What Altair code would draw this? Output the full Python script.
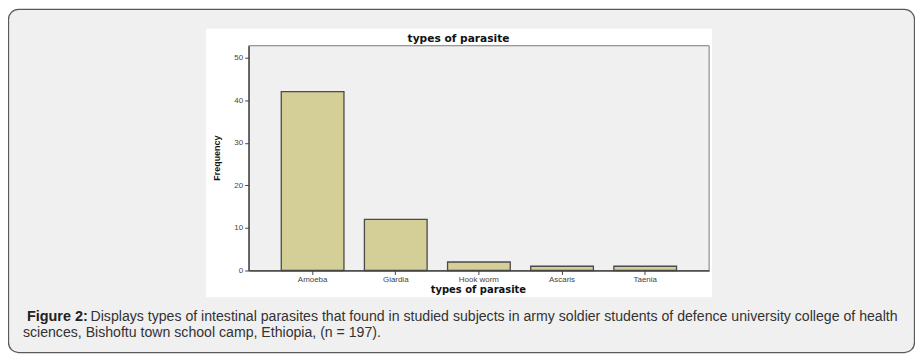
import altair as alt
import pandas as pd

categories = ["Amoeba", "Giardia", "Hook worm", "Ascaris", "Taenia"]
counts = [42, 12, 2, 1, 1]

chart_title = "types of parasite"
x_title = "types of parasite"
y_title = "Frequency"
caption_bold = "Figure 2:"
caption_line1 = "Displays types of intestinal parasites that found in studied subjects in army soldier students of defence university college of health"
caption_line2 = "sciences, Bishoftu town school camp, Ethiopia, (n = 197)."

df = pd.DataFrame({"type": categories, "count": counts})
one = pd.DataFrame({"k": [0]})

W, H = 463, 226
FONT = "Liberation Sans"
TFONT = "DejaVu Sans"

frame = alt.Chart(one).mark_rect(
    cornerRadius=10, fill="#f0f0f0", stroke="#5a5a5a", strokeWidth=1.3
).encode(x=alt.value(-241.5), x2=alt.value(669.5), y=alt.value(-36.5), y2=alt.value(308.5))

panel = alt.Chart(one).mark_rect(fill="white").encode(
    x=alt.value(-43), x2=alt.value(466), y=alt.value(-17), y2=alt.value(253)
)

plotbg = alt.Chart(one).mark_rect(fill="#f0f0f0", stroke="#7a7a7a", strokeWidth=1).encode(
    x=alt.value(0), x2=alt.value(W), y=alt.value(0), y2=alt.value(H)
)

bars = alt.Chart(df).mark_bar(fill="#d3cf97", stroke="#4a4a4a", strokeWidth=1.3).encode(
    x=alt.X(
        "type:N",
        sort=categories,
        scale=alt.Scale(paddingInner=0.246, paddingOuter=0.392),
        axis=alt.Axis(
            title=None, labelAngle=0, labelFontSize=8, labelColor="#444", labelFont=FONT,
            tickSize=4, tickColor="#444", domainColor="#444", domainWidth=1.3,
            labelPadding=1, zindex=1,
        ),
    ),
    y=alt.Y(
        "count:Q",
        scale=alt.Scale(domain=[0, 52.8], nice=False),
        axis=alt.Axis(
            title=None, values=[0, 10, 20, 30, 40, 50], grid=False, labelFontSize=8,
            labelColor="#444", labelFont=FONT, tickSize=4, tickColor="#444",
            domainColor="#444", domainWidth=1.3, labelPadding=2, zindex=1,
        ),
    ),
)

def txt(text, x, y, size, bold=False, angle=0, align="left", color="#111", font=FONT):
    return alt.Chart(pd.DataFrame({"t": [text]})).mark_text(
        fontSize=size, font=font, fontWeight="bold" if bold else "normal",
        align=align, baseline="middle", angle=angle, color=color,
    ).encode(text="t:N", x=alt.value(x), y=alt.value(y))

t_title = txt(chart_title, 211, -7, 10.7, bold=True, align="center", font=TFONT)
t_x = txt(x_title, 231, 246, 10, bold=True, align="center", font=TFONT)
t_y = txt(y_title, -32, 113, 9, bold=True, angle=270, align="center")
c_b = txt(caption_bold, -223, 273, 14.5, bold=True, color="#222")
c_1 = txt(caption_line1, -159, 273, 14.2, color="#333")
c_2 = txt(caption_line2, -227, 289, 14.2, color="#333")

chart = alt.layer(frame, panel, plotbg, bars, t_title, t_x, t_y, c_b, c_1, c_2).properties(
    width=W, height=H,
    autosize=alt.AutoSizeParams(type="none"),
    padding={"left": 242, "top": 37, "right": 912 - 242 - W, "bottom": 346 - 37 - H},
    background="white",
).configure_view(stroke=None)

chart.save("out.html", embed_options={"renderer": "svg", "actions": False})
